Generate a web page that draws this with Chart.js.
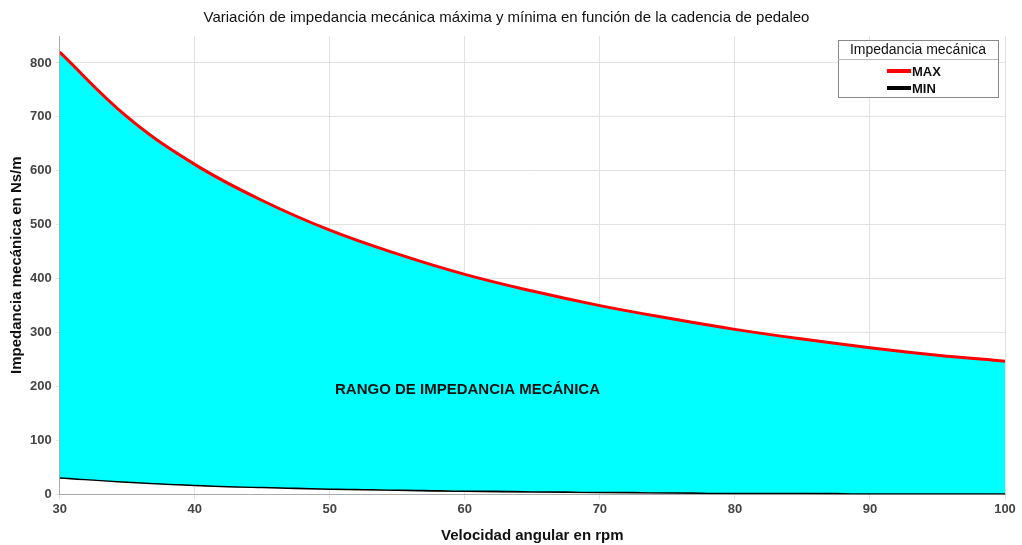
<!DOCTYPE html>
<html>
<head>
<meta charset="utf-8">
<script src="https://cdn.jsdelivr.net/npm/chart.js@4"></script>
<style>
  html, body { margin: 0; padding: 0; background: #fff; }
  #wrap { width: 1022px; height: 545px; }
</style>
</head>
<body>
<div id="wrap"><canvas id="myChart"></canvas></div>
<script>
// velocidad angular (rpm)
var rpm = [30, 35, 40, 45, 50, 55, 60, 65, 70, 75, 80, 85, 90, 95, 100];
// impedancia mecánica máxima / mínima (Ns/m)
var zMax = [820, 700, 612, 545, 490, 446, 408, 377, 350, 327, 306, 288, 272, 258, 247];
var zMin = [32, 24, 18, 14, 11, 9, 7, 6, 5, 4, 3, 3, 2, 2, 2];
var yTicks = [0, 100, 200, 300, 400, 500, 600, 700, 800];
var xTicks = [30, 40, 50, 60, 70, 80, 90, 100];

var narrow = '"Liberation Sans Narrow", "Liberation Sans", Arial, sans-serif';

function pts(ys) {
  return rpm.map(function (x, i) { return { x: x, y: ys[i] }; });
}

// leyenda y texto interior dibujados a mano
var extras = {
  id: 'extras',
  afterDatasetsDraw: function (chart) {
    var ctx = chart.ctx;
    var xs = chart.scales.x, ys = chart.scales.y;
    ctx.save();
    ctx.font = 'bold 15px ' + narrow;
    ctx.fillStyle = '#111';
    ctx.textAlign = 'center';
    ctx.textBaseline = 'middle';
    ctx.fillText('RANGO DE IMPEDANCIA MECÁNICA', xs.getPixelForValue(60.2), ys.getPixelForValue(193));

    // caja de leyenda
    var bx = 838, by = 40, bw = 160, bh = 57;
    ctx.fillStyle = '#fff';
    ctx.fillRect(bx, by, bw, bh);
    ctx.strokeStyle = '#888';
    ctx.lineWidth = 1;
    ctx.strokeRect(bx + 0.5, by + 0.5, bw, bh);
    ctx.beginPath();
    ctx.moveTo(bx, by + 19.5);
    ctx.lineTo(bx + bw, by + 19.5);
    ctx.strokeStyle = '#bbb';
    ctx.stroke();
    ctx.fillStyle = '#111';
    ctx.font = '14px ' + narrow;
    ctx.fillText('Impedancia mecánica', bx + bw / 2, by + 10);
    var rows = chart.data.datasets;
    rows.forEach(function (ds, i) {
      var ly = by + 31 + i * 17;
      ctx.beginPath();
      ctx.moveTo(bx + 49, ly);
      ctx.lineTo(bx + 73, ly);
      ctx.strokeStyle = ds.borderColor;
      ctx.lineWidth = 4;
      ctx.stroke();
      ctx.fillStyle = '#111';
      ctx.font = 'bold 13px Arial, "Liberation Sans", sans-serif';
      ctx.textAlign = 'left';
      ctx.fillText(ds.label, bx + 74, ly + 1);
    });
    ctx.restore();
  }
};

var ctx = document.getElementById('myChart').getContext('2d');
new Chart(ctx, {
  type: 'line',
  data: {
    datasets: [{
      label: 'MAX',
      data: pts(zMax),
      borderColor: '#ff0000',
      backgroundColor: '#00ffff',
      borderWidth: 3,
      pointRadius: 0,
      tension: 0.4,
      fill: '+1'
    }, {
      label: 'MIN',
      data: pts(zMin),
      borderColor: '#000000',
      borderWidth: 3,
      pointRadius: 0,
      tension: 0.4,
      fill: false
    }]
  },
  options: {
    responsive: true,
    maintainAspectRatio: false,
    animation: false,
    layout: { padding: { left: 8, right: 17, top: 0, bottom: 0 } },
    plugins: {
      legend: { display: false },
      tooltip: { enabled: false },
      title: {
        display: true,
        text: 'Variación de impedancia mecánica máxima y mínima en función de la cadencia de pedaleo',
        color: '#111',
        font: { family: narrow, size: 15, weight: 'normal' },
        padding: { top: 9, bottom: 9 }
      }
    },
    scales: {
      x: {
        type: 'linear',
        min: 30,
        max: 100,
        afterBuildTicks: function (s) { s.ticks = xTicks.map(function (v) { return { value: v }; }); },
        ticks: { color: '#444', font: { family: 'Arial, "Liberation Sans", sans-serif', size: 13, weight: 'bold' }, padding: 2, maxRotation: 0 },
        grid: { color: '#e2e2e2', drawTicks: true, tickLength: 5 },
        border: { color: '#aaa' },
        title: {
          display: true,
          text: 'Velocidad angular en rpm',
          color: '#111',
          font: { family: narrow, size: 15, weight: 'bold' },
          padding: { top: 8, bottom: 0 }
        }
      },
      y: {
        min: 0,
        max: 850,
        afterBuildTicks: function (s) { s.ticks = yTicks.map(function (v) { return { value: v }; }); },
        ticks: { color: '#444', font: { family: 'Arial, "Liberation Sans", sans-serif', size: 13, weight: 'bold' }, padding: 4 },
        grid: { color: '#e2e2e2', tickLength: 4 },
        border: { color: '#aaa' },
        title: {
          display: true,
          text: 'Impedancia mecánica en Ns/m',
          color: '#111',
          font: { family: narrow, size: 15, weight: 'bold' },
          padding: { top: 0, bottom: 0 }
        }
      }
    }
  },
  plugins: [extras]
});
</script>
</body>
</html>
